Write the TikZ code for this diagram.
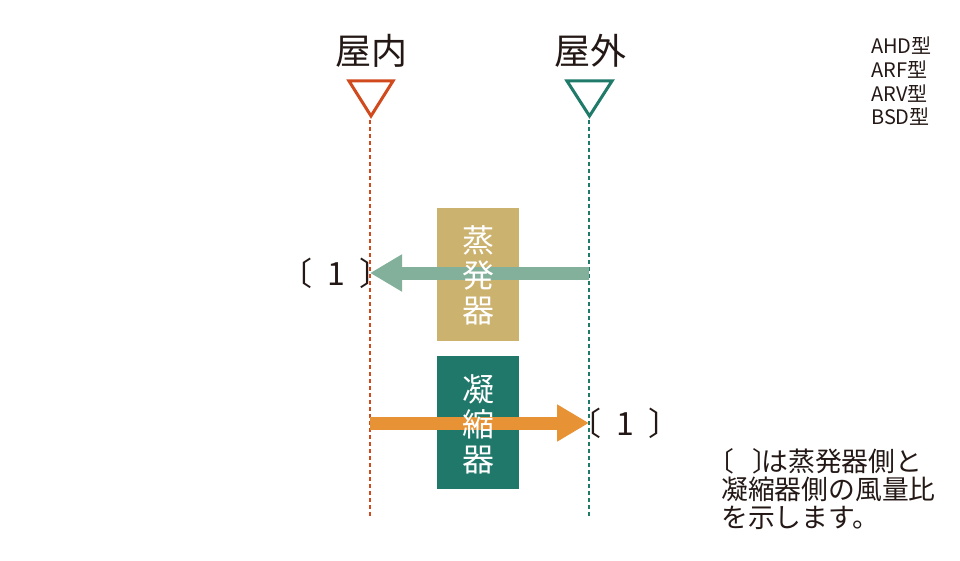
\documentclass[tikz,border=0pt]{standalone}
\usepackage{fontspec}
\setmainfont{Noto Sans CJK JP}
\newfontfamily\haltfont[RawFeature=+halt]{Noto Sans CJK JP}
\usetikzlibrary{arrows.meta}
\definecolor{inred}{HTML}{D04A1E}
\definecolor{outteal}{HTML}{1F7A6A}
\definecolor{evapc}{HTML}{CBB26E}
\definecolor{condc}{HTML}{20786A}
\definecolor{garrow}{HTML}{82B09A}
\definecolor{oarrow}{HTML}{E89236}
\definecolor{txt}{HTML}{231815}
\tikzset{
  title/.style={text=txt,inner sep=0pt,font=\fontsize{36}{40}\selectfont},
  tri/.style={line width=3pt,line join=miter},
  vline/.style={line width=1.3pt,dash pattern=on 4pt off 3pt},
  unitbox/.style={minimum width=82pt,minimum height=133pt,inner sep=0pt,draw=none},
  vtext/.style={text=white,inner sep=0pt,align=center,font=\fontsize{32}{35}\selectfont},
  flow/.style={line width=13pt,-{Triangle[length=32pt,width=35pt]}},
  ratio/.style={text=txt,inner sep=0pt,font=\fontsize{32}{34}\selectfont},
  models/.style={text=txt,inner sep=0pt,align=left,font=\fontsize{20}{23.7}\selectfont},
  note/.style={text=txt,inner sep=0pt,align=left,font=\fontsize{26.8}{28.3}\selectfont}
}
\begin{document}
\begin{tikzpicture}[x=1pt,y=-1pt]
\useasboundingbox (0,0) rectangle (960,561);
% titles
\node[title] (indoor) at (371,51) {屋内};
\node[title] (outdoor) at (590,51) {屋外};
% triangles
\draw[tri,draw=inred] (349,81) -- (393,81) -- (371,116) -- cycle;
\draw[tri,draw=outteal] (567,81) -- (612,81) -- (589.5,116) -- cycle;
% vertical dashed lines
\coordinate (inTop) at (370,120);
\coordinate (inBot) at (370,518);
\coordinate (outTop) at (589,120);
\coordinate (outBot) at (589,518);
\draw[vline,draw=inred] (inTop) -- (inBot);
\draw[vline,draw=outteal] (outTop) -- (outBot);
% boxes
\node[unitbox,fill=evapc] (evap) at (478,274.5) {};
\node[unitbox,fill=condc] (cond) at (478,422.5) {};
% arrows
\coordinate (evapOut) at (589,273);
\coordinate (evapIn) at (370,273);
\coordinate (condIn) at (370,423);
\coordinate (condOut) at (589,423);
\draw[flow,draw=garrow,fill=garrow] (evapOut) -- (evapIn);
\draw[flow,draw=oarrow,fill=oarrow] (condIn) -- (condOut);
% box texts
\node[vtext] (evapText) at (478,275) {蒸\\発\\器};
\node[vtext] (condText) at (478,424) {凝\\縮\\器};
% ratio labels
\node[ratio] (ratioL) at (336,273) {〔\hspace{0.45em}1\hspace{0.45em}〕};
\node[ratio] (ratioR) at (625,423) {〔\hspace{0.45em}1\hspace{0.45em}〕};
% models
\node[models,anchor=north west] (modelList) at (871,37) {AHD型\\ARF型\\ARV型\\BSD型};
% note
\node[note,anchor=north west] (noteText) at (721,448) {{\haltfont 〔}\hspace{0.65em}{\haltfont 〕}\hspace{-0.15em}は蒸発器側と\\凝縮器側の風量比\\を示します。};
\end{tikzpicture}
\end{document}
